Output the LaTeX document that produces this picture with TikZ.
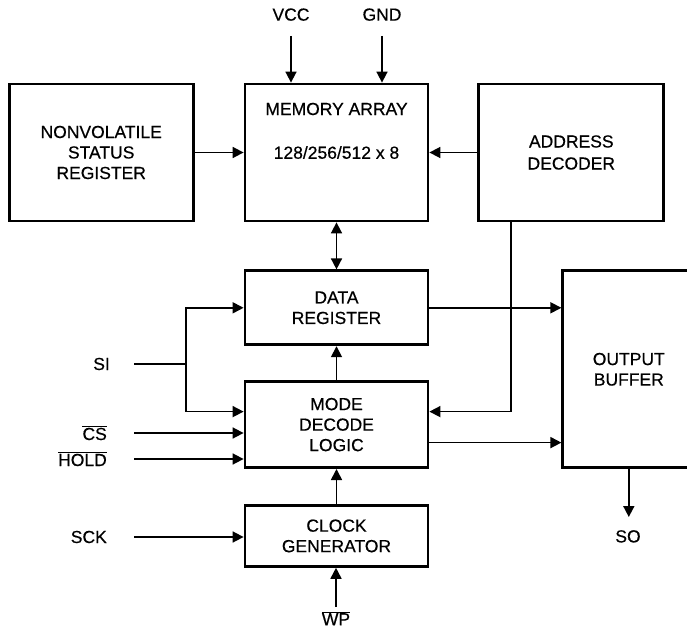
\documentclass[tikz,border=0pt]{standalone}
\usepackage{fontspec}
\setmainfont{Liberation Sans}[BoldFont=Liberation Sans,BoldFeatures={FakeBold=0.5}]
\usetikzlibrary{arrows.meta,positioning}
\newcommand{\lbl}{\fontsize{17.5}{20.5}\selectfont\bfseries}
\newcommand{\ovl}[1]{$\overline{\hbox{#1}}$}

\begin{document}
\begin{tikzpicture}[
  x=1pt,y=-1pt,
  node distance=49pt,
  blk/.style={draw,line width=2.8pt,align=center,font=\lbl,inner sep=0pt},
  pin/.style={font=\lbl,inner sep=0pt},
  wire/.style={line width=1.7pt},
  arr/.style={wire,-{Triangle[length=11pt,width=11pt]}},
  dbl/.style={wire,{Triangle[length=11pt,width=11pt]}-{Triangle[length=11pt,width=11pt]}}]
\useasboundingbox (0,0) rectangle (687,631);
% top row
\node[blk,minimum width=183pt,minimum height=137pt] (ma) at (336.5,152.5) {128/256/512 x 8};
\node[pin,below=20pt of ma.north] (matitle) {MEMORY ARRAY};
\node[blk,minimum width=184pt,minimum height=137pt,left=of ma] (nv) {NONVOLATILE\\STATUS\\REGISTER};
\node[blk,minimum width=185pt,minimum height=137pt,right=48pt of ma] (ad) {ADDRESS\\[1.5pt]DECODER};
% middle column
\node[blk,minimum width=183pt,minimum height=74pt,below=47pt of ma] (dr) {DATA\\REGISTER};
\node[blk,minimum width=183pt,minimum height=86pt,below=34pt of dr] (mdl) {MODE\\DECODE\\LOGIC};
\node[blk,minimum width=183pt,minimum height=61pt,below=35pt of mdl] (cg) {CLOCK\\GENERATOR};
\node[blk,minimum width=132pt,minimum height=197pt,right=132pt of dr.north east,anchor=north west] (ob) {OUTPUT\\BUFFER};
% pins
\coordinate (vccin) at (291,36);
\coordinate (gndin) at (382,36);
\node[pin,above=15pt of vccin] (vcc) {VCC};
\node[pin,above=15pt of gndin] (gnd) {GND};
\coordinate (siin) at (134,364);
\coordinate (sij) at (186,364);
\coordinate (csin) at (134,433);
\coordinate (holdin) at (134,459);
\coordinate (sckin) at (134,537);
\node[pin,left=24pt of siin] (si) {SI};
\node[pin,left=27pt of csin] (cs) {\ovl{CS}};
\node[pin,left=27pt of holdin] (hold) {\ovl{HOLD}};
\node[pin,left=27pt of sckin] (sck) {SCK};
\coordinate (soout) at (628,517);
\node[pin,below=13pt of soout] (so) {SO};
\coordinate (wpin) at (336,607);
\node[pin,below=4pt of wpin] (wp) {\ovl{WP}};
\coordinate (adtap) at ([xshift=-60pt]ad.south);
\coordinate (mdlad) at ([yshift=13pt]mdl.east);
\coordinate (mdlsi) at ([yshift=13pt]mdl.west);
\coordinate (mdlo) at ([yshift=-18pt]mdl.east);
% connectors
\draw[arr] (vccin) -- (vccin |- ma.north);
\draw[arr] (gndin) -- (gndin |- ma.north);
\foreach \a/\b in {nv/ma,ad/ma,mdl/dr,cg/mdl} \draw[arr] (\a)--(\b);
\draw[dbl] (ma.south) -- (ma.south |- dr.north);
\draw[wire] (siin) -- (sij);
\draw[arr] (sij) |- (dr.west);
\draw[arr] (sij) |- (mdlsi);
\draw[arr] (csin) -- (csin -| mdl.west);
\draw[arr] (holdin) -- (holdin -| mdl.west);
\draw[arr] (sckin) -- (sckin -| cg.west);
\draw[arr] (adtap) |- (mdlad);
\draw[arr] (dr.east) -- (dr.east -| ob.west);
\draw[arr] (mdlo) -- (mdlo -| ob.west);
\draw[arr] (ob.south) -- (ob.south |- soout);
\draw[arr] (wpin) -- (wpin |- cg.south);
\end{tikzpicture}
\end{document}
